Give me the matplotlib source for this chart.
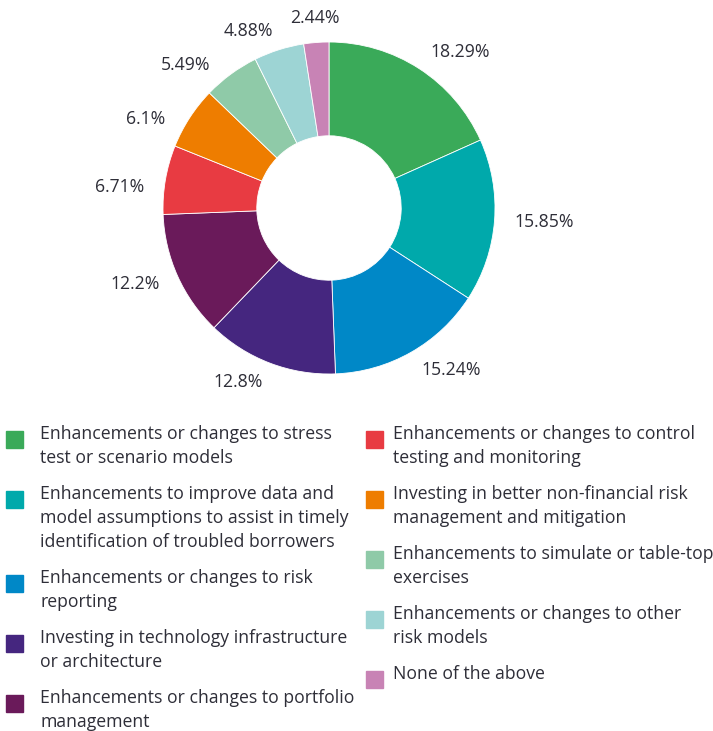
import numpy as np
import matplotlib
matplotlib.use("Agg")
import matplotlib.pyplot as plt
from matplotlib.patches import Rectangle

plt.rcParams['font.family'] = ['Open Sans', 'DejaVu Sans']

categories = [
    "Enhancements or changes to stress\ntest or scenario models",
    "Enhancements to improve data and\nmodel assumptions to assist in timely\nidentification of troubled borrowers",
    "Enhancements or changes to risk\nreporting",
    "Investing in technology infrastructure\nor architecture",
    "Enhancements or changes to portfolio\nmanagement",
    "Enhancements or changes to control\ntesting and monitoring",
    "Investing in better non-financial risk\nmanagement and mitigation",
    "Enhancements to simulate or table-top\nexercises",
    "Enhancements or changes to other\nrisk models",
    "None of the above",
]
values = [18.29, 15.85, 15.24, 12.8, 12.2, 6.71, 6.1, 5.49, 4.88, 2.44]
value_labels = ["18.29%", "15.85%", "15.24%", "12.8%", "12.2%",
                "6.71%", "6.1%", "5.49%", "4.88%", "2.44%"]
colors = ["#3aaa59", "#00a9ab", "#0088c7", "#45267f", "#6a1a5a",
          "#e83b42", "#ee7d00", "#8fcaa8", "#9dd4d4", "#c883b5"]

W, H = 713, 731
fig = plt.figure(figsize=(W / 100, H / 100), dpi=100)
text_color = "#2e2e38"
fs = 12.7

cx, cy, R = 329, 208, 166
ax = fig.add_axes([(cx - R) / W, (H - cy - R) / H, 2 * R / W, 2 * R / H])
wedges, _ = ax.pie(values, colors=colors, startangle=90, counterclock=False,
                   radius=1.0, wedgeprops=dict(width=0.565, edgecolor="white", linewidth=0.6))
ax.set_xlim(-1, 1)
ax.set_ylim(-1, 1)
ax.set_aspect("equal")
ax.axis("off")

# label anchors on a ring just outside the donut; spread crowded labels apart
anchors = []
for w in wedges:
    ang = (w.theta1 + w.theta2) / 2
    anchors.append(ang)
min_sep = 22.0
left = sorted([i for i, a in enumerate(anchors) if np.cos(np.deg2rad(a)) < -0.12],
              key=lambda i: anchors[i])
for k in range(1, len(left)):
    i_prev, i = left[k - 1], left[k]
    if anchors[i] - anchors[i_prev] < min_sep:
        anchors[i] = anchors[i_prev] + min_sep

for a, lab in zip(anchors, value_labels):
    ang = np.deg2rad(a)
    c, s = np.cos(ang), np.sin(ang)
    r = 1.12
    x, y = r * c, r * s
    if abs(c) < 0.12:
        ha = "center"
        y += 0.03
    elif c > 0:
        ha = "left"
    else:
        ha = "right"
    ax.text(x, y, lab, ha=ha, va="center", fontsize=fs, color=text_color)

# Legend drawn manually in two columns
line_h = 24
gap = 12
cols = [(categories[:5], colors[:5], 6, 40), (categories[5:], colors[5:], 366, 393)]
for cats, cols_, sq_x, tx_x in cols:
    y = 432
    for cat, col in zip(cats, cols_):
        lines = cat.split("\n")
        fig.patches.append(Rectangle((sq_x / W, 1 - (y + 16) / H), 17 / W, 17 / H,
                                     transform=fig.transFigure, color=col))
        for i, ln in enumerate(lines):
            fig.text(tx_x / W, 1 - (y + 2 + i * line_h) / H, ln, ha="left", va="center",
                     fontsize=fs, color=text_color)
        y += len(lines) * line_h + gap

fig.savefig("out.png", dpi=100)
